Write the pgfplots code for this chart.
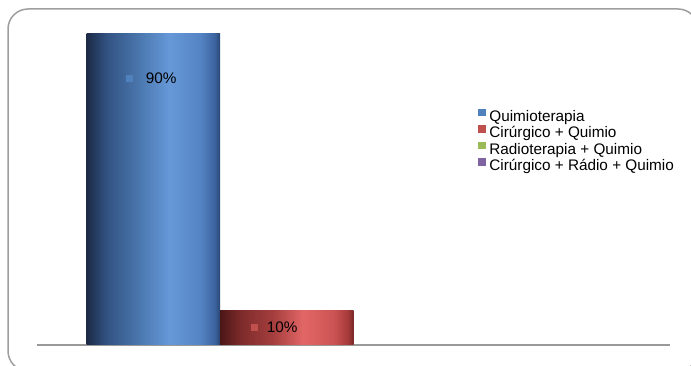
\documentclass[border=0pt]{standalone}
\usepackage{pgfplots}
\pgfplotsset{compat=1.18}
\usepackage{fontspec}
\setmainfont{Liberation Sans}
\definecolor{cblue}{RGB}{79,129,189}
\definecolor{cred}{RGB}{192,80,77}
\definecolor{cgreen}{RGB}{155,187,89}
\definecolor{cpurple}{RGB}{128,100,162}
\definecolor{bb0}{RGB}{28,42,70}
\definecolor{bb1}{RGB}{50,82,130}
\definecolor{bb2}{RGB}{75,120,175}
\definecolor{bb3}{RGB}{102,152,216}
\definecolor{bb4}{RGB}{85,132,196}
\definecolor{bb5}{RGB}{60,100,160}
\definecolor{bb6}{RGB}{40,70,115}
\definecolor{rb0}{RGB}{75,22,22}
\definecolor{rb1}{RGB}{125,42,42}
\definecolor{rb2}{RGB}{165,62,62}
\definecolor{rb3}{RGB}{226,102,102}
\definecolor{rb4}{RGB}{205,84,84}
\definecolor{rb5}{RGB}{165,58,58}
\definecolor{rb6}{RGB}{120,40,40}
\pgfdeclarehorizontalshading{barblue}{100bp}{color(0bp)=(bb0); color(25bp)=(bb0); color(32.5bp)=(bb1); color(45bp)=(bb2); color(56bp)=(bb3); color(67.5bp)=(bb4); color(73bp)=(bb5); color(75bp)=(bb6); color(100bp)=(bb6)}
\pgfdeclarehorizontalshading{barred}{100bp}{color(0bp)=(rb0); color(25bp)=(rb0); color(32.5bp)=(rb1); color(45bp)=(rb2); color(56bp)=(rb3); color(67.5bp)=(rb4); color(73bp)=(rb5); color(75bp)=(rb6); color(100bp)=(rb6)}
\begin{document}
\begin{tikzpicture}
\useasboundingbox (0pt,0pt) rectangle (691pt,366pt);
\draw[black!38, line width=1.5pt, rounded corners=20pt] (8pt,-5pt) rectangle (698pt,357pt);
\begin{axis}[
  at={(37pt,21pt)}, anchor=south west,
  scale only axis, width=633pt, height=311pt,
  xmin=-0.871, xmax=3.871, ymin=0, ymax=90,
  clip=false,
  axis y line=none,
  axis x line*=bottom,
  x axis line style={-, black!40, line width=2pt},
  xtick=\empty, ytick=\empty,
  bar width=1,
  legend cell align=left,
  legend image code/.code={\fill[draw=none,#1] (0pt,1.5pt) rectangle (8pt,9pt);},
  legend style={draw=none, fill=none, at={(0.697,0.760)}, anchor=north west,
    font=\fontsize{15.3pt}{16pt}\selectfont, inner sep=0pt, row sep=0pt,
    /tikz/every odd column/.append style={column sep=3pt},
    nodes={inner sep=0pt, text height=11pt, text depth=4pt}},
]
\addplot[ybar, bar shift=0pt, draw=none, shade, shading=barblue, forget plot,
  nodes near coords={\textcolor{cblue}{\rule[1.5pt]{7.5pt}{7.5pt}}\hspace{12.5pt}90\%},
  every node near coord/.append style={anchor=center, yshift=-44.5pt, xshift=-2pt, text=black, font=\fontsize{15.3pt}{16pt}\selectfont}]
  coordinates {(0,90)};
\addplot[ybar, bar shift=0pt, draw=none, shade, shading=barred, forget plot,
  nodes near coords={\textcolor{cred}{\rule[1.5pt]{7.5pt}{7.5pt}}\hspace{8.5pt}10\%},
  every node near coord/.append style={anchor=center, yshift=-17pt, xshift=-12.5pt, text=black, font=\fontsize{15.3pt}{16pt}\selectfont}]
  coordinates {(1,10)};
\addlegendimage{fill=cblue}
\addlegendentry{Quimioterapia}
\addlegendimage{fill=cred}
\addlegendentry{Cirúrgico + Quimio}
\addlegendimage{fill=cgreen}
\addlegendentry{Radioterapia + Quimio}
\addlegendimage{fill=cpurple}
\addlegendentry{Cirúrgico + Rádio + Quimio}
\end{axis}
\end{tikzpicture}
\end{document}
